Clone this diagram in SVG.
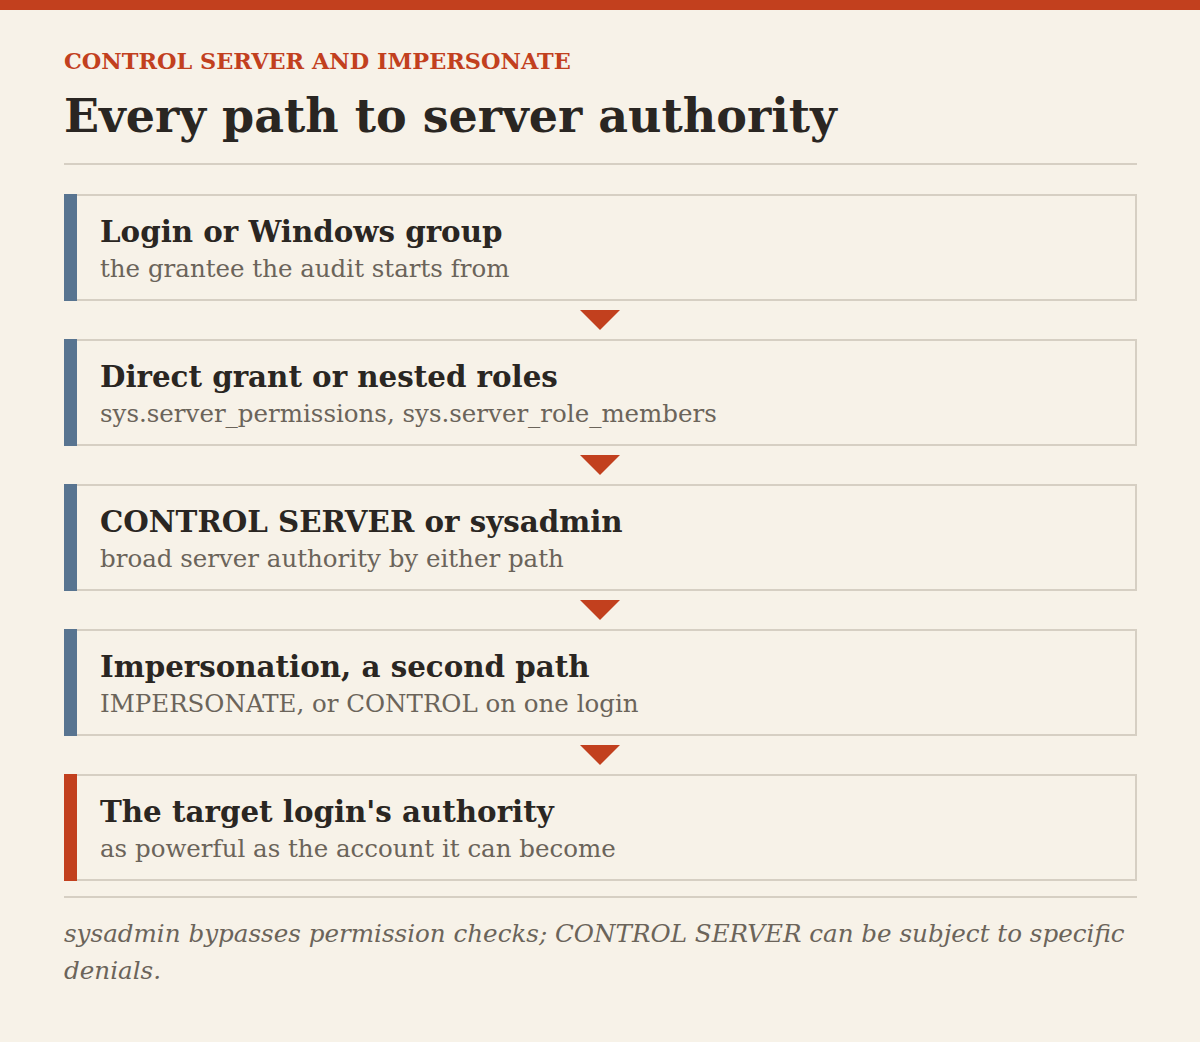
<svg xmlns="http://www.w3.org/2000/svg" width="1200" height="1042" viewBox="0 0 1200 1042">
<defs>
<style>
.eyebrow{font-family:"DejaVu Serif",serif;font-weight:700;font-size:22.4px;fill:#c2401e}
.title{font-family:"DejaVu Serif",serif;font-weight:700;font-size:46px;fill:#2a2622}
.head{font-family:"DejaVu Serif",serif;font-weight:700;font-size:29.3px;fill:#2a2622}
.sub{font-family:"DejaVu Serif",serif;font-size:24.5px;fill:#6b645a}
.foot{font-family:"DejaVu Serif",serif;font-style:italic;font-size:24.6px;fill:#6b645a}
.box{fill:#f7f2e8;stroke:#d6cfc3;stroke-width:2}
.rule{stroke:#d6cfc3;stroke-width:2}
.arrow{fill:#c2401e}
</style>
</defs>
<rect x="0" y="0" width="1200" height="1042" fill="#f7f2e8"/>
<rect x="0" y="0" width="1200" height="10" fill="#c2401e"/>
<text class="eyebrow" x="64" y="69">CONTROL SERVER AND IMPERSONATE</text>
<text class="title" x="64" y="132">Every path to server authority</text>
<line class="rule" x1="64" y1="164" x2="1137" y2="164"/>
<g id="connectors">
<polygon class="arrow" points="580,310 620,310 600,330"/>
<polygon class="arrow" points="580,455 620,455 600,475"/>
<polygon class="arrow" points="580,600 620,600 600,620"/>
<polygon class="arrow" points="580,745 620,745 600,765"/>
</g>
<g id="node1">
<rect class="box" x="65" y="195" width="1071" height="105"/>
<rect x="64" y="194" width="13" height="107" fill="#587490"/>
<text class="head" x="100" y="242">Login or Windows group</text>
<text class="sub" x="100" y="277">the grantee the audit starts from</text>
</g>
<g id="node2">
<rect class="box" x="65" y="340" width="1071" height="105"/>
<rect x="64" y="339" width="13" height="107" fill="#587490"/>
<text class="head" x="100" y="387">Direct grant or nested roles</text>
<text class="sub" x="100" y="422">sys.server_permissions, sys.server_role_members</text>
</g>
<g id="node3">
<rect class="box" x="65" y="485" width="1071" height="105"/>
<rect x="64" y="484" width="13" height="107" fill="#587490"/>
<text class="head" x="100" y="532">CONTROL SERVER or sysadmin</text>
<text class="sub" x="100" y="567">broad server authority by either path</text>
</g>
<g id="node4">
<rect class="box" x="65" y="630" width="1071" height="105"/>
<rect x="64" y="629" width="13" height="107" fill="#587490"/>
<text class="head" x="100" y="677">Impersonation, a second path</text>
<text class="sub" x="100" y="712">IMPERSONATE, or CONTROL on one login</text>
</g>
<g id="node5">
<rect class="box" x="65" y="775" width="1071" height="105"/>
<rect x="64" y="774" width="13" height="107" fill="#c2401e"/>
<text class="head" x="100" y="822">The target login's authority</text>
<text class="sub" x="100" y="857">as powerful as the account it can become</text>
</g>
<line class="rule" x1="64" y1="897" x2="1137" y2="897"/>
<text class="foot" x="64" y="942">sysadmin bypasses permission checks; CONTROL SERVER can be subject to specific</text>
<text class="foot" x="64" y="979">denials.</text>
</svg>
